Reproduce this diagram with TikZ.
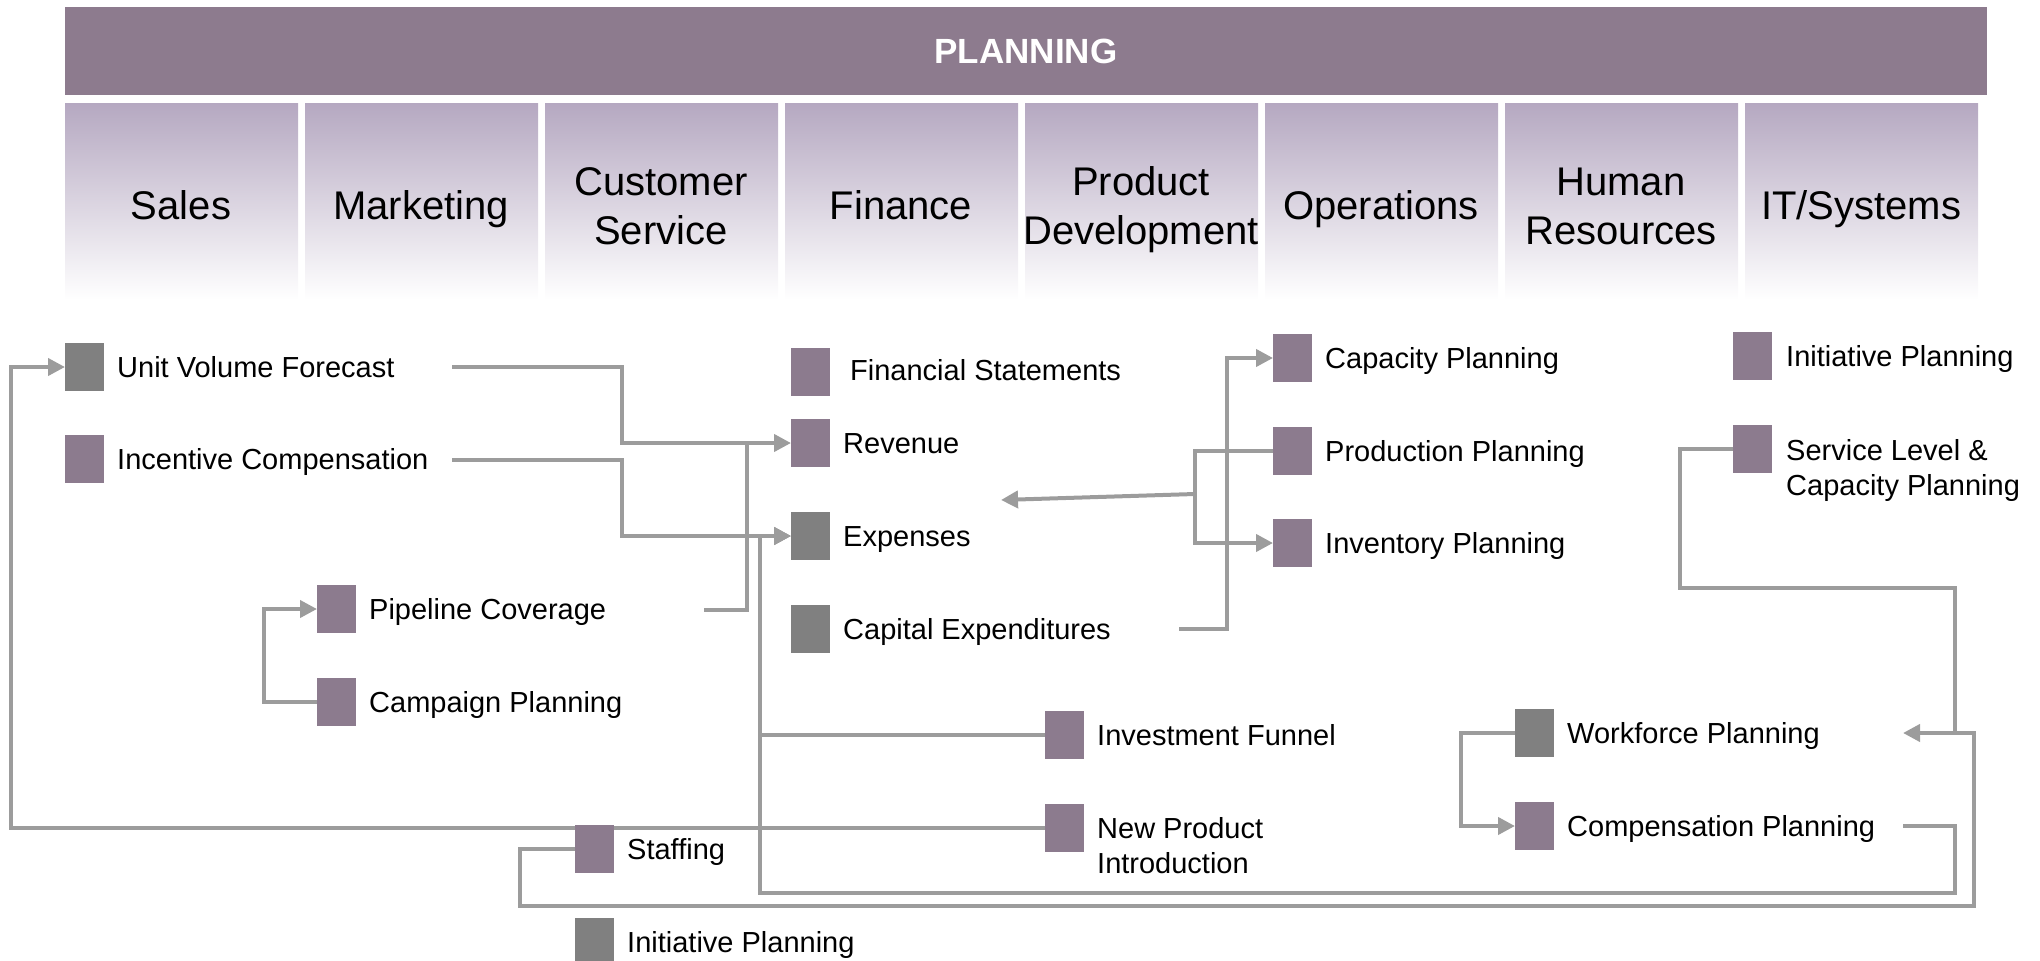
\documentclass[tikz,border=0pt]{standalone}
\usepackage{fontspec}
\setmainfont{Liberation Sans}
\usetikzlibrary{arrows.meta,backgrounds}
\definecolor{barpurple}{HTML}{8D7B8E}
\definecolor{coltop}{HTML}{B5A8C1}
\definecolor{sqpurple}{HTML}{8C7B8E}
\definecolor{sqgray}{HTML}{808080}
\definecolor{linegray}{HTML}{9C9C9C}
\begin{document}
\begin{tikzpicture}[x=1pt,y=-1pt,
  sqp/.style={fill=sqpurple, draw=none, minimum width=39pt, minimum height=48pt, inner sep=0pt, outer sep=0pt},
  sqg/.style={sqp, fill=sqgray},
  lbl/.style={anchor=west, inner sep=0pt, align=left, font=\fontsize{29}{35}\selectfont},
  colbox/.style={anchor=north west, minimum width=233pt, minimum height=197pt, inner sep=0pt, outer sep=0pt, top color=coltop, bottom color=white, draw=none},
  colhead/.style={align=center, inner sep=0pt, font=\fontsize{40}{49}\selectfont},
  conn/.style={draw=linegray, line width=4pt},
  arr/.style={conn, -{Triangle[length=17pt,width=17pt]}},
]
\useasboundingbox (0,0) rectangle (2040,961);

% title bar
\node[fill=barpurple, minimum width=1922pt, minimum height=88pt, inner sep=0pt, anchor=north west] (bar) at (65,6.5) {};
\node[text=white, inner sep=0pt, font=\bfseries\fontsize{35}{42}\selectfont, anchor=base] (title) at (1026,63) {PLANNING};

% column boxes
\node[colbox] (c1) at (65,103) {};
\node[colbox] (c2) at (305,103) {};
\node[colbox] (c3) at (545,103) {};
\node[colbox] (c4) at (785,103) {};
\node[colbox] (c5) at (1025,103) {};
\node[colbox] (c6) at (1265,103) {};
\node[colbox] (c7) at (1505,103) {};
\node[colbox] (c8) at (1745,103) {};

\node[colhead] (h1) at (181,209.7) {\strut Sales};
\node[colhead] (h2) at (421,209.7) {\strut Marketing};
\node[colhead] (h3) at (661,209.7) {\strut Customer\\\strut Service};
\node[colhead] (h4) at (901,209.7) {\strut Finance};
\node[colhead] (h5) at (1141,209.7) {\strut Product\\\strut Development};
\node[colhead] (h6) at (1381,209.7) {\strut Operations};
\node[colhead] (h7) at (1621,209.7) {\strut Human\\\strut Resources};
\node[colhead] (h8) at (1861,209.7) {\strut IT/Systems};

% squares
\node[sqg] (uvf) at (84.5,367) {};
\node[sqp] (inc) at (84.5,459) {};
\node[sqp] (pipe) at (336.5,609) {};
\node[sqp] (camp) at (336.5,702) {};
\node[sqp] (fin) at (810.5,372) {};
\node[sqp] (rev) at (810.5,443) {};
\node[sqg] (exp) at (810.5,536) {};
\node[sqg] (capex) at (810.5,629) {};
\node[sqp] (invf) at (1064.5,735) {};
\node[sqp] (npi) at (1064.5,828) {};
\node[sqp] (cap) at (1292.5,358) {};
\node[sqp] (prod) at (1292.5,451) {};
\node[sqp] (invp) at (1292.5,543) {};
\node[sqp] (itinit) at (1752.5,356) {};
\node[sqp] (svc) at (1752.5,449) {};
\node[sqg] (wf) at (1534.5,733) {};
\node[sqp] (comp) at (1534.5,826) {};
\node[sqp] (staff) at (594.5,849) {};
\node[sqg] (csinit) at (594.5,942) {};

% labels
\node[lbl] (uvft) at ([xshift=13pt,yshift=-3pt]uvf.east) {\strut Unit Volume Forecast};
\node[lbl] (inct) at ([xshift=13pt,yshift=-3pt]inc.east) {\strut Incentive Compensation};
\node[lbl] (pipet) at ([xshift=13pt,yshift=-3pt]pipe.east) {\strut Pipeline Coverage};
\node[lbl] (campt) at ([xshift=13pt,yshift=-3pt]camp.east) {\strut Campaign Planning};
\node[lbl] (fint) at ([xshift=20pt,yshift=-1pt]fin.east) {\strut Financial Statements};
\node[lbl] (revt) at ([xshift=13pt,yshift=-3pt]rev.east) {\strut Revenue};
\node[lbl] (expt) at ([xshift=13pt,yshift=-3pt]exp.east) {\strut Expenses};
\node[lbl] (capext) at ([xshift=13pt,yshift=-3pt]capex.east) {\strut Capital Expenditures};
\node[lbl] (invft) at ([xshift=13pt,yshift=-3pt]invf.east) {\strut Investment Funnel};
\node[lbl] (npit) at ([xshift=13pt,yshift=-20.5pt]npi.east) {\strut New Product\\\strut Introduction};
\node[lbl] (capt) at ([xshift=13pt,yshift=-3pt]cap.east) {\strut Capacity Planning};
\node[lbl] (prodt) at ([xshift=13pt,yshift=-3pt]prod.east) {\strut Production Planning};
\node[lbl] (invpt) at ([xshift=13pt,yshift=-3pt]invp.east) {\strut Inventory Planning};
\node[lbl] (itinitt) at ([xshift=14pt,yshift=-3pt]itinit.east) {\strut Initiative Planning};
\node[lbl] (svct) at ([xshift=14pt,yshift=-21.5pt]svc.east) {\strut Service Level \&\\\strut Capacity Planning};
\node[lbl] (wft) at ([xshift=13pt,yshift=-3pt]wf.east) {\strut Workforce Planning};
\node[lbl] (compt) at ([xshift=13pt,yshift=-3pt]comp.east) {\strut Compensation Planning};
\node[lbl] (stafft) at ([xshift=13pt,yshift=-3pt]staff.east) {\strut Staffing};
\node[lbl] (csinitt) at ([xshift=13pt,yshift=-3pt]csinit.east) {\strut Initiative Planning};

% connector free ends
\coordinate (uvfout) at (452,367);
\coordinate (incout) at (452,460);
\coordinate (pipeout) at (704,610);
\coordinate (capexout) at (1179,629);
\coordinate (compout) at (1903,826);
\coordinate (wfin) at (1903,733);
\coordinate (expin) at (1001,500);
\coordinate (prodbranch) at (1195,494);

\begin{scope}[on background layer]
\draw[arr] (uvfout) -- (622,367) |- (rev.west);
\draw[arr] (incout) -- (622,460) |- (exp.west);
\draw[conn] (pipeout) -| (747,443);
\draw[arr] (camp.west) -- (264,702) |- (pipe.west);
\draw[arr] (invf.west) -- (760,735) |- (exp.west);
\draw[arr] (compout) -| (1955,893) -- (760,893) |- (exp.west);
\draw[arr] (npi.west) -- (11,828) |- (uvf.west);
\draw[arr] (staff.west) -- (520,849) |- (1974,906) |- (wfin);
\draw[conn] (svc.west) -- (1680,449) |- (1955,588) -- (1955,735);
\draw[arr] (wf.west) -- (1461,733) |- (comp.west);
\draw[arr] (capexout) -- (1227,629) |- (cap.west);
\draw[arr] (prod.west) -- (1195,451) |- (invp.west);
\draw[arr] (prodbranch) -- (expin);
\end{scope}
\end{tikzpicture}
\end{document}
